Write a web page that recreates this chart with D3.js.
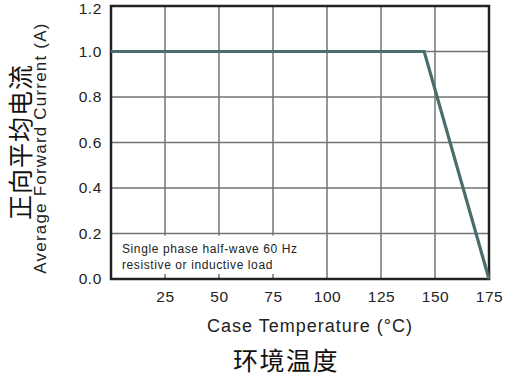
<!DOCTYPE html>
<html>
<head>
<meta charset="utf-8">
<script src="https://cdn.jsdelivr.net/npm/d3@7"></script>
<style>
  html, body { margin: 0; padding: 0; background: #fff; }
  svg { display: block; }
</style>
</head>
<body>
<script>
// Derating curve: average forward current vs case temperature
const tempC = [0, 145, 175];
const currentA = [1.0, 1.0, 0.0];
const xTicks = [25, 50, 75, 100, 125, 150, 175];
const yTicks = [0.0, 0.2, 0.4, 0.6, 0.8, 1.0, 1.2];
const noteLines = ["Single phase half-wave 60 Hz", "resistive or inductive load"];

const W = 505, H = 381;
const m = { left: 111, right: 16, top: 6, bottom: 102 };
const pw = W - m.left - m.right, ph = H - m.top - m.bottom;

const svg = d3.select("body").append("svg").attr("width", W).attr("height", H);
const g = svg.append("g").attr("transform", `translate(${m.left},${m.top})`);

const x = d3.scaleLinear().domain([0, 175]).range([0, pw]);
const y = d3.scaleLinear().domain([0, 1.2]).range([ph, 0]);

const font = "'Liberation Sans', Arial, sans-serif";
const cjk = "'Noto Sans CJK SC', sans-serif";
const gridColor = "#6f7472";

// grid
g.append("g").selectAll("line").data(xTicks.filter(d => d > 0 && d < 175)).join("line")
  .attr("x1", d => x(d)).attr("x2", d => x(d)).attr("y1", 0).attr("y2", ph)
  .attr("stroke", gridColor).attr("stroke-width", 1.5);
g.append("g").selectAll("line").data(yTicks.filter(d => d > 0 && d < 1.2)).join("line")
  .attr("x1", 0).attr("x2", pw).attr("y1", d => y(d)).attr("y2", d => y(d))
  .attr("stroke", gridColor).attr("stroke-width", 1.5);

// note box covering the grid
const noteRight = 95;
g.append("rect").attr("x", 0).attr("y", y(0.2) + 2).attr("width", x(noteRight)).attr("height", ph - y(0.2) - 2)
  .attr("fill", "#fff");
g.append("g").selectAll("line").data(xTicks.filter(d => d < noteRight)).join("line")
  .attr("x1", d => x(d)).attr("x2", d => x(d)).attr("y1", ph).attr("y2", ph - 5)
  .attr("stroke", gridColor).attr("stroke-width", 1.5);
g.append("text").attr("x", 11).attr("y", y(0.2) + 19)
  .attr("font-family", font).attr("font-size", 12).attr("letter-spacing", 0.6).attr("fill", "#222")
  .selectAll("tspan").data(noteLines).join("tspan")
  .attr("x", 11).attr("dy", (d, i) => i ? 16 : 0).text(d => d);

// frame
g.append("rect").attr("x", 0).attr("y", 0).attr("width", pw).attr("height", ph)
  .attr("fill", "none").attr("stroke", "#222").attr("stroke-width", 2.5);

// derating curve
g.append("path").datum(tempC.map((t, i) => [t, currentA[i]]))
  .attr("d", d3.line().x(d => x(d[0])).y(d => y(d[1])))
  .attr("fill", "none").attr("stroke", "#4b6e6c").attr("stroke-width", 3.2)
  .attr("stroke-linejoin", "miter");

// axes (labels only)
const xAxis = g.append("g").attr("transform", `translate(0,${ph})`)
  .call(d3.axisBottom(x).tickValues(xTicks).tickSize(0).tickPadding(12).tickFormat(d3.format("d")));
const yAxis = g.append("g")
  .call(d3.axisLeft(y).tickValues(yTicks).tickSize(0).tickPadding(9).tickFormat(d3.format(".1f")));
[xAxis, yAxis].forEach(a => {
  a.select(".domain").remove();
  a.selectAll("text").attr("font-family", font).attr("font-size", 15.5).attr("fill", "#222")
    .attr("letter-spacing", 0.6);
});
// keep the top label inside the page
yAxis.selectAll(".tick").filter(d => d === 1.2).select("text").attr("y", 3);

// axis titles
svg.append("text").attr("x", 310).attr("y", 332).attr("text-anchor", "middle")
  .attr("font-family", font).attr("font-size", 18).attr("letter-spacing", 1).attr("fill", "#222")
  .text("Case Temperature (°C)");
svg.append("text").attr("x", 286).attr("y", 370).attr("text-anchor", "middle")
  .attr("font-family", cjk).attr("font-size", 25).attr("letter-spacing", 1.5).attr("fill", "#111")
  .text("环境温度");
svg.append("text").attr("transform", `translate(30,142) rotate(-90)`).attr("text-anchor", "middle")
  .attr("font-family", cjk).attr("font-size", 25).attr("letter-spacing", 1).attr("fill", "#111")
  .text("正向平均电流");
svg.append("text").attr("transform", `translate(46,148) rotate(-90)`).attr("text-anchor", "middle")
  .attr("font-family", font).attr("font-size", 17).attr("letter-spacing", 1.2).attr("fill", "#222")
  .text("Average Forward Current (A)");
</script>
</body>
</html>
